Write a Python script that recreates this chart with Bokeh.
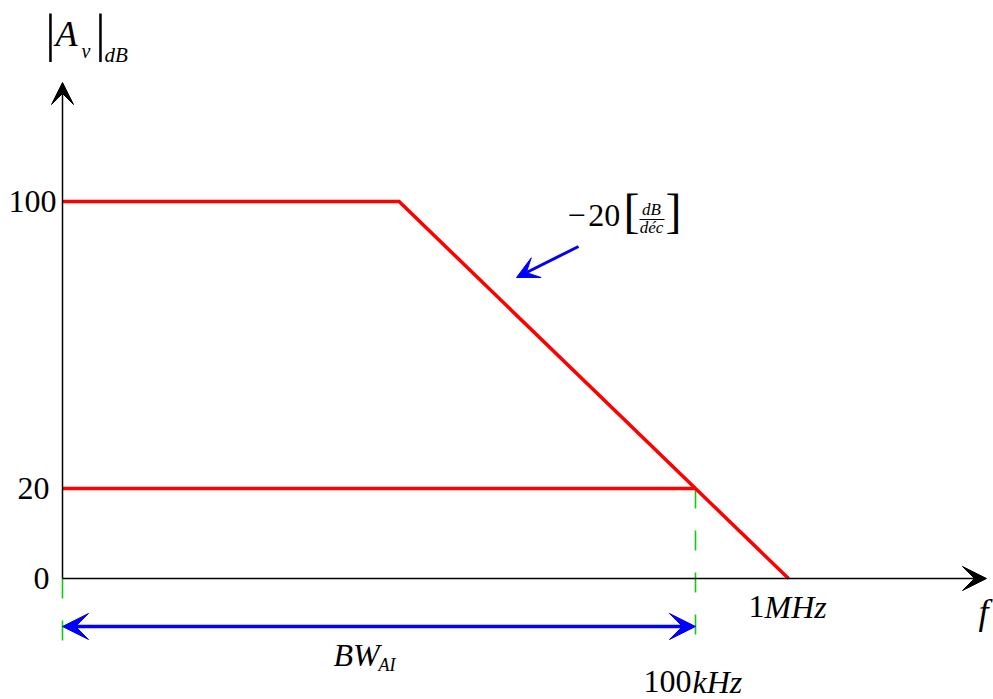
import numpy as np
from bokeh.plotting import figure
from bokeh.models import Range1d, Label, Arrow, VeeHead
from bokeh.embed import file_html
from bokeh.resources import INLINE

# ---- data -------------------------------------------------------------
gain_ticks_db = [0, 20, 100]
gain_tick_labels = ["0", "20", "100"]

ol_freq_hz = [65.0, 1e5, 1e6]     # open-loop corner, crossing, unity-gain
ol_gain_db = [100.0, 20.0, 0.0]
ol_dc_gain_db = 100.0

cl_gain_db = 20.0                  # closed-loop gain
cl_bw_hz = 1e5                     # closed-loop bandwidth
unity_hz = 1e6

# ---- layout (log10 frequency on x, schematic dB on y) ------------------
W, H = 993, 699
PX_PER_DEC = 93.0
PX_PER_UNIT = 4.5
X_MIN = 6 - 788 / PX_PER_DEC
X_MAX = X_MIN + W / PX_PER_DEC
Y_MAX = 578 / PX_PER_UNIT
Y_MIN = Y_MAX - H / PX_PER_UNIT
X0 = X_MIN + 62 / PX_PER_DEC       # axis origin
BASELINE_FIX = 0.34                # text baseline correction (fraction of font size)


def axis_level(db):
    # vertical axis is drawn broken: upper part compressed
    return np.interp(db, [0, 20, 100], [0, 20, 83.78])


def lx(f):
    return np.log10(f)


def dx(px):
    return px / PX_PER_DEC


def dy(px):
    return px / PX_PER_UNIT


def page(px, py):
    return X_MIN + px / PX_PER_DEC, Y_MAX - py / PX_PER_UNIT


p = figure(width=W, height=H, x_range=Range1d(X_MIN, X_MAX), y_range=Range1d(Y_MIN, Y_MAX),
           output_backend="svg", toolbar_location=None, min_border=0,
           x_axis_type=None, y_axis_type=None)
p.grid.visible = False
p.outline_line_color = None
p.background_fill_color = "white"
p.border_fill_color = "white"

SERIF = "Liberation Serif"
RED = "#ff0000"
BLUE = "#0000ff"
GREEN = "#10cc10"

# ---- axes as arrows ------------------------------------------------------
x_tip, _ = page(986, 0)
_, y_tip = page(0, 82)
p.add_layout(Arrow(x_start=X0, y_start=0, x_end=x_tip, y_end=0, line_color="black", line_width=1.5,
                   end=VeeHead(size=24, fill_color="black", line_color="black", line_width=1)))
p.add_layout(Arrow(x_start=X0, y_start=0, x_end=X0, y_end=y_tip, line_color="black", line_width=1.5,
                   end=VeeHead(size=22, fill_color="black", line_color="black", line_width=1)))

# ---- green dashed guides --------------------------------------------------
_, y_guide_end = page(0, 641)
p.segment(x0=[lx(cl_bw_hz), X0], y0=[axis_level(cl_gain_db), 0],
          x1=[lx(cl_bw_hz), X0], y1=[y_guide_end, y_guide_end],
          line_color=GREEN, line_width=1.6, line_dash="20 22")

# ---- gain curves -------------------------------------------------------------
ol_x = [X0] + [lx(f) for f in ol_freq_hz]
ol_y = list(axis_level([ol_dc_gain_db] + ol_gain_db))
p.line(ol_x, ol_y, line_color=RED, line_width=3.5, line_join="miter")
p.line([X0, lx(cl_bw_hz)], [axis_level(cl_gain_db)] * 2, line_color=RED, line_width=3.5)

# ---- bandwidth double arrow ---------------------------------------------------
_, y_bw = page(0, 626)
p.add_layout(Arrow(x_start=X0, y_start=y_bw, x_end=lx(cl_bw_hz), y_end=y_bw,
                   line_color=BLUE, line_width=3.5,
                   start=VeeHead(size=26, fill_color=BLUE, line_color=BLUE, line_width=1),
                   end=VeeHead(size=26, fill_color=BLUE, line_color=BLUE, line_width=1)))

# ---- slope pointer arrow -----------------------------------------------------
ax0, ay0 = page(578, 246)
ax1, ay1 = page(516, 277)
p.add_layout(Arrow(x_start=ax0, y_start=ay0, x_end=ax1, y_end=ay1, line_color=BLUE, line_width=3,
                   end=VeeHead(size=22, fill_color=BLUE, line_color=BLUE, line_width=1)))


def label(text, px, py, size, italic=False, align="left"):
    # py is the desired baseline in page pixels
    x, y = page(px, py - BASELINE_FIX * size)
    p.add_layout(Label(x=x, y=y, text=text, text_font=SERIF, text_font_size=f"{size}px",
                       text_font_style="italic" if italic else "normal",
                       text_align=align, text_baseline="alphabetic", text_color="black"))


# ---- y tick labels --------------------------------------------------------------
tick_right = {"100": 56, "20": 49, "0": 49}
for db, txt in zip(gain_ticks_db, gain_tick_labels):
    y = axis_level(db) - dy(11) + dy(BASELINE_FIX * 32)
    x = X0 - dx(62 - tick_right[txt])
    p.add_layout(Label(x=x, y=y, text=txt, text_font=SERIF, text_font_size="32px",
                       text_align="right", text_baseline="alphabetic", text_color="black"))

# ---- frequency labels -------------------------------------------------------------
label("1", 788 - 24, 617, 32, align="right")
label("MHz", 788 - 24, 617, 32, italic=True)
label("100", 691, 692, 32, align="right")
label("kHz", 692, 692, 32, italic=True)
label("f", 978, 624, 36, italic=True)

# ---- axis title |A_v|_dB ----------------------------------------------------------
label("|", 50, 51, 52, align="center")
label("A", 55, 46, 36, italic=True)
label("v", 81, 57, 20, italic=True)
label("|", 100, 51, 52, align="center")
label("dB", 104, 62, 21, italic=True)

# ---- slope annotation -20 [dB/déc] -------------------------------------------------
label("\u2212\u200a20", 567, 225, 32)
label("[", 623, 226, 48)
label("dB", 651, 215, 17, italic=True, align="center")
label("déc", 651, 233, 17, italic=True, align="center")
label("]", 665, 226, 48)
fx0, fy = page(639, 219)
fx1, _ = page(664, 219)
p.segment(x0=[fx0], y0=[fy], x1=[fx1], y1=[fy], line_color="black", line_width=1)

# ---- bandwidth label -----------------------------------------------------------------
label("BW", 333, 665, 32, italic=True)
label("AI", 378, 671, 18, italic=True)

open("out.html", "w").write(file_html(p, INLINE))
